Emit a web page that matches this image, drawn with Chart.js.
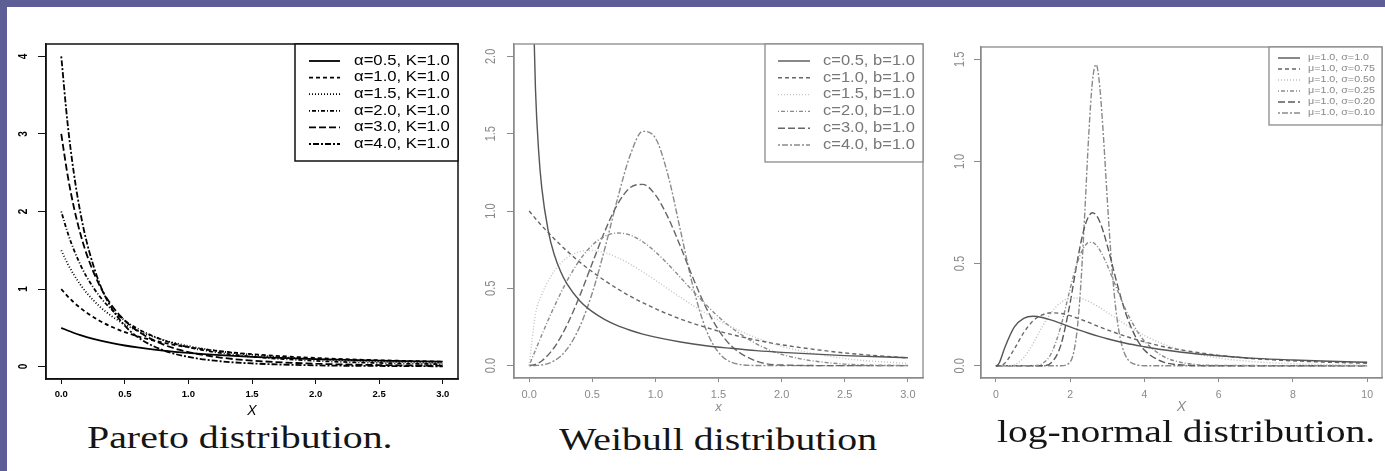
<!DOCTYPE html>
<html>
<head>
<meta charset="utf-8">
<script src="https://cdn.jsdelivr.net/npm/chart.js@4.4.1/dist/chart.umd.min.js"></script>
<style>
  html, body { margin: 0; padding: 0; }
  body { width: 1385px; height: 471px; background: #5e5e96; position: relative; overflow: hidden; }
  #panel { position: absolute; left: 7px; top: 7px; right: 0; bottom: 0; background: #fff; }
  canvas { position: absolute; }
  .cap { position: absolute; font-family: "Liberation Serif", serif; font-size: 31px; line-height: 1;
         color: #151515; white-space: nowrap; transform-origin: 0 0; }
</style>
</head>
<body>
<div id="panel"></div>
<canvas id="pareto" width="462" height="412" style="left:8px;top:8px"></canvas>
<canvas id="weibull" width="462" height="407" style="left:470px;top:8px"></canvas>
<canvas id="lognormal" width="451" height="408" style="left:934px;top:8px"></canvas>
<div class="cap" data-w="306" style="left:87px;top:422px">Pareto distribution.</div>
<div class="cap" data-w="318" style="left:559px;top:424px">Weibull distribution</div>
<div class="cap" data-w="378" style="left:997px;top:416px">log-normal distribution.</div>

<script>
// ---- Pareto (K = 1.0) ----
const paretoLabels = ['α=0.5, K=1.0', 'α=1.0, K=1.0', 'α=1.5, K=1.0', 'α=2.0, K=1.0', 'α=3.0, K=1.0', 'α=4.0, K=1.0'];
const paretoX   = [0, 0.05, 0.1, 0.15, 0.2, 0.3, 0.4, 0.5, 0.6, 0.8, 1.0, 1.25, 1.5, 2.0, 2.5, 3.0];
const paretoA05 = [0.5, 0.465, 0.433, 0.405, 0.38, 0.337, 0.302, 0.272, 0.247, 0.207, 0.177, 0.148, 0.126, 0.096, 0.076, 0.063];
const paretoA10 = [1, 0.907, 0.826, 0.756, 0.694, 0.592, 0.51, 0.444, 0.391, 0.309, 0.25, 0.198, 0.16, 0.111, 0.082, 0.063];
const paretoA15 = [1.5, 1.328, 1.182, 1.058, 0.951, 0.778, 0.647, 0.544, 0.463, 0.345, 0.265, 0.198, 0.152, 0.096, 0.065, 0.047];
const paretoA20 = [2, 1.728, 1.503, 1.315, 1.157, 0.91, 0.729, 0.593, 0.488, 0.343, 0.25, 0.176, 0.128, 0.074, 0.047, 0.031];
const paretoA30 = [3, 2.468, 2.049, 1.715, 1.447, 1.05, 0.781, 0.593, 0.458, 0.286, 0.188, 0.117, 0.077, 0.037, 0.02, 0.012];
const paretoA40 = [4, 3.134, 2.484, 1.989, 1.608, 1.077, 0.744, 0.527, 0.381, 0.212, 0.125, 0.069, 0.041, 0.016, 0.008, 0.004];
const paretoXTicks = [0, 0.5, 1.0, 1.5, 2.0, 2.5, 3.0];
const paretoYTicks = [0, 1, 2, 3, 4];

// ---- Weibull (b = 1.0) ----
const weibullLabels = ['c=0.5, b=1.0', 'c=1.0, b=1.0', 'c=1.5, b=1.0', 'c=2.0, b=1.0', 'c=3.0, b=1.0', 'c=4.0, b=1.0'];
const weibullX05 = [0.03, 0.05, 0.075, 0.1, 0.15, 0.2, 0.25, 0.3, 0.4, 0.5, 0.6, 0.7, 0.8, 0.9, 1.0, 1.2, 1.4, 1.6, 1.8, 2.0, 2.5, 3.0];
const weibullC05 = [2.43, 1.79, 1.39, 1.15, 0.877, 0.715, 0.607, 0.528, 0.42, 0.349, 0.298, 0.259, 0.229, 0.204, 0.184, 0.153, 0.129, 0.112, 0.097, 0.086, 0.065, 0.051];
const weibullX   = [0, 0.05, 0.1, 0.2, 0.3, 0.4, 0.5, 0.6, 0.7, 0.8, 0.9, 1.0, 1.1, 1.2, 1.3, 1.4, 1.5, 1.6, 1.8, 2.0, 2.5, 3.0];
const weibullC10 = [1, 0.951, 0.905, 0.819, 0.741, 0.67, 0.607, 0.549, 0.497, 0.449, 0.407, 0.368, 0.333, 0.301, 0.273, 0.247, 0.223, 0.202, 0.165, 0.135, 0.082, 0.05];
const weibullC15 = [0, 0.332, 0.46, 0.613, 0.697, 0.737, 0.745, 0.73, 0.699, 0.656, 0.606, 0.552, 0.496, 0.441, 0.388, 0.339, 0.293, 0.251, 0.18, 0.125, 0.046, 0.014];
const weibullC20 = [0, 0.1, 0.198, 0.384, 0.548, 0.682, 0.779, 0.837, 0.858, 0.844, 0.801, 0.736, 0.656, 0.569, 0.48, 0.395, 0.316, 0.247, 0.141, 0.073, 0.01, 0.001];
const weibullC30 = [0, 0.008, 0.03, 0.119, 0.263, 0.45, 0.662, 0.87, 1.043, 1.151, 1.172, 1.104, 0.959, 0.767, 0.563, 0.378, 0.231, 0.128, 0.029, 0.004, 0, 0];
const weibullC40 = [0, 0.001, 0.004, 0.032, 0.107, 0.25, 0.47, 0.759, 1.079, 1.36, 1.515, 1.472, 1.232, 0.869, 0.505, 0.236, 0.086, 0.023, 0.001, 0, 0, 0];
const weibullXTicks = [0, 0.5, 1.0, 1.5, 2.0, 2.5, 3.0];
const weibullYTicks = [0, 0.5, 1.0, 1.5, 2.0];

// ---- log-normal (mu = 1.0) ----
const lognormLabels = ['μ=1.0, σ=1.0', 'μ=1.0, σ=0.75', 'μ=1.0, σ=0.50', 'μ=1.0, σ=0.25', 'μ=1.0, σ=0.20', 'μ=1.0, σ=0.10'];
const lognormXWide = [0, 0.05, 0.1, 0.25, 0.5, 0.75, 1, 1.25, 1.5, 1.75, 2, 2.25, 2.5, 2.75, 3, 3.5, 4, 4.5, 5, 6, 7, 8, 9, 10];
const lognormS100 = [0, 0.003, 0.017, 0.093, 0.19, 0.232, 0.242, 0.236, 0.223, 0.207, 0.19, 0.174, 0.159, 0.145, 0.132, 0.11, 0.093, 0.078, 0.066, 0.049, 0.036, 0.028, 0.022, 0.017];
const lognormS075 = [0, 0, 0, 0.014, 0.083, 0.162, 0.219, 0.249, 0.259, 0.256, 0.245, 0.229, 0.212, 0.193, 0.176, 0.144, 0.117, 0.094, 0.077, 0.051, 0.034, 0.024, 0.017, 0.012];
const lognormS050 = [0, 0, 0, 0, 0.005, 0.039, 0.108, 0.191, 0.262, 0.309, 0.33, 0.33, 0.315, 0.29, 0.261, 0.201, 0.148, 0.107, 0.076, 0.038, 0.019, 0.01, 0.005, 0.003];
const lognormXNarrow = [0, 1, 1.25, 1.5, 1.75, 2, 2.1, 2.2, 2.3, 2.4, 2.5, 2.6, 2.7, 2.8, 2.9, 3.0, 3.1, 3.2, 3.3, 3.4, 3.5, 3.6, 3.8, 4, 4.5, 5, 6, 10];
const lognormS025 = [0, 0, 0.01, 0.063, 0.193, 0.376, 0.446, 0.507, 0.555, 0.587, 0.604, 0.604, 0.591, 0.566, 0.532, 0.492, 0.448, 0.403, 0.358, 0.314, 0.273, 0.236, 0.171, 0.121, 0.047, 0.016, 0.002, 0];
const lognormS020 = [0, 0, 0, 0.016, 0.101, 0.307, 0.413, 0.518, 0.612, 0.685, 0.731, 0.749, 0.738, 0.705, 0.653, 0.589, 0.519, 0.447, 0.378, 0.314, 0.256, 0.207, 0.129, 0.077, 0.019, 0.004, 0, 0];
const lognormS010 = [0, 0, 0, 0, 0, 0.018, 0.068, 0.194, 0.43, 0.766, 1.124, 1.39, 1.474, 1.364, 1.116, 0.818, 0.543, 0.329, 0.185, 0.096, 0.047, 0.021, 0.004, 0, 0, 0, 0, 0];
const lognormXTicks = [0, 2, 4, 6, 8, 10];
const lognormYTicks = [0, 0.5, 1.0, 1.5];

// R lty 1..6
const ltyDash = [[], [4, 3], [1, 2], [1, 2, 4, 2], [7, 3], [2, 2, 6, 2]];
const SANS = '"Liberation Sans", Arial, sans-serif';

function pts(xs, ys) { return xs.map((x, i) => ({ x: x, y: ys[i] })); }

// box round the plot region, rotated y labels and the legend, R style
const rFrame = {
  id: 'rFrame',
  afterDatasetsDraw(chart, args, o) {
    const ctx = chart.ctx, a = chart.chartArea;
    ctx.save();
    ctx.strokeStyle = o.color;
    ctx.lineWidth = o.width;
    ctx.strokeRect(a.left, a.top, a.right - a.left, a.bottom - a.top);

    const ys = chart.scales.y;
    ctx.fillStyle = o.labelColor;
    ctx.font = o.labelFont;
    ctx.textAlign = 'center';
    ctx.textBaseline = 'middle';
    ys.ticks.forEach(t => {
      ctx.save();
      ctx.translate(a.left - o.labelGap, ys.getPixelForValue(t.value));
      ctx.rotate(-Math.PI / 2);
      ctx.scale(1, o.labelStretch);
      ctx.fillText(t.value.toFixed(o.decimals), 0, 0);
      ctx.restore();
    });

    const L = o.legend;
    const bx = a.right - L.w, by = a.top;
    ctx.fillStyle = '#fff';
    ctx.fillRect(bx, by, L.w, L.h);
    ctx.strokeRect(bx, by, L.w, L.h);
    chart.data.datasets.forEach((ds, i) => {
      const y = by + L.first + i * L.step;
      ctx.save();
      ctx.strokeStyle = ds.borderColor;
      ctx.lineWidth = ds.borderWidth;
      ctx.setLineDash(ds.borderDash);
      ctx.beginPath();
      ctx.moveTo(bx + L.sx, y);
      ctx.lineTo(bx + L.sx + L.sl, y);
      ctx.stroke();
      ctx.restore();
      ctx.save();
      ctx.translate(bx + L.tx, y);
      ctx.scale(L.hs, 1);
      ctx.fillStyle = L.color;
      ctx.font = L.font;
      ctx.textAlign = 'left';
      ctx.textBaseline = 'middle';
      ctx.fillText(ds.label, 0, 0);
      ctx.restore();
    });
    ctx.restore();
  }
};

function makeChart(id, p) {
  const datasets = p.series.map((s, i) => ({
    label: p.labels[i],
    data: pts(s[0], s[1]),
    borderColor: p.colors[i],
    borderWidth: p.lw,
    borderDash: ltyDash[i],
    pointRadius: 0,
    cubicInterpolationMode: 'monotone',
    fill: false
  }));
  return new Chart(document.getElementById(id), {
    type: 'line',
    data: { datasets: datasets },
    plugins: [rFrame],
    options: {
      responsive: false,
      animation: false,
      devicePixelRatio: 1,
      layout: { padding: { left: 0, top: p.top, right: p.right, bottom: 0 } },
      scales: {
        x: {
          type: 'linear', min: p.xmin, max: p.xmax,
          afterBuildTicks: s => { s.ticks = p.xticks.map(v => ({ value: v })); },
          afterFit: s => { s.height = p.xh; },
          ticks: {
            color: p.tickColor, padding: p.xpad, maxRotation: 0,
            font: { family: SANS, size: p.tickSize, weight: p.tickWeight },
            callback: v => v.toFixed(p.xdec)
          },
          grid: { drawOnChartArea: false, drawTicks: true, tickLength: p.xtl, color: p.axisColor, lineWidth: 1 },
          border: { color: p.axisColor, width: p.boxWidth },
          title: {
            display: true, text: p.xtitle, color: p.tickColor, padding: 0,
            font: { family: SANS, size: p.xtitleSize, style: 'italic', lineHeight: 1.2 }
          }
        },
        y: {
          type: 'linear', min: p.ymin, max: p.ymax,
          afterBuildTicks: s => { s.ticks = p.yticks.map(v => ({ value: v })); },
          afterFit: s => { s.width = p.left; },
          ticks: { display: false },
          grid: { drawOnChartArea: false, drawTicks: true, tickLength: p.ytl, color: p.axisColor, lineWidth: 1 },
          border: { color: p.axisColor, width: p.boxWidth }
        }
      },
      plugins: {
        legend: { display: false },
        tooltip: { enabled: false },
        rFrame: {
          color: p.axisColor, width: p.boxWidth,
          labelColor: p.tickColor, labelFont: p.tickWeight + ' ' + p.ylabSize + 'px ' + SANS,
          labelGap: p.ylabGap, labelStretch: 1.25, decimals: p.ydec,
          legend: p.legend
        }
      }
    }
  });
}

makeChart('pareto', {
  labels: paretoLabels,
  series: [[paretoX, paretoA05], [paretoX, paretoA10], [paretoX, paretoA15], [paretoX, paretoA20], [paretoX, paretoA30], [paretoX, paretoA40]],
  colors: ['#000', '#000', '#000', '#000', '#000', '#000'], lw: 1.8,
  top: 36, right: 12, left: 38, xh: 41,
  xmin: -0.12, xmax: 3.12, ymin: -0.16, ymax: 4.16,
  xticks: paretoXTicks, yticks: paretoYTicks, xdec: 1, ydec: 0,
  tickColor: '#000', axisColor: '#111', boxWidth: 1.5, tickSize: 9.5, ylabSize: 10, tickWeight: 'bold',
  xpad: 5, xtl: 5, ytl: 8, ylabGap: 22,
  xtitle: 'X', xtitleSize: 14,
  legend: { w: 163, h: 117, first: 17, step: 16.6, sx: 14, sl: 31, tx: 59, hs: 1.19,
            color: '#000', font: '14px ' + SANS }
});

makeChart('weibull', {
  labels: weibullLabels,
  series: [[weibullX05, weibullC05], [weibullX, weibullC10], [weibullX, weibullC15], [weibullX, weibullC20], [weibullX, weibullC30], [weibullX, weibullC40]],
  colors: ['#555', '#666', '#c4c4c4', '#8a8a8a', '#666', '#8a8a8a'], lw: 1.4,
  top: 36, right: 9, left: 44, xh: 37,
  xmin: -0.12, xmax: 3.12, ymin: -0.08, ymax: 2.08,
  xticks: weibullXTicks, yticks: weibullYTicks, xdec: 1, ydec: 1,
  tickColor: '#8a8a8a', axisColor: '#8a8a8a', boxWidth: 1.3, tickSize: 11, ylabSize: 11, tickWeight: 'normal',
  xpad: 6, xtl: 4, ytl: 7, ylabGap: 23,
  xtitle: 'x', xtitleSize: 13,
  legend: { w: 158, h: 118, first: 17, step: 16.8, sx: 13, sl: 32, tx: 58, hs: 1.18,
            color: '#777', font: '14px ' + SANS }
});

makeChart('lognormal', {
  labels: lognormLabels,
  series: [[lognormXWide, lognormS100], [lognormXWide, lognormS075], [lognormXWide, lognormS050], [lognormXNarrow, lognormS025], [lognormXNarrow, lognormS020], [lognormXNarrow, lognormS010]],
  colors: ['#555', '#666', '#bdbdbd', '#8a8a8a', '#5a5a5a', '#8a8a8a'], lw: 1.4,
  top: 39, right: 3, left: 47, xh: 38,
  xmin: -0.4, xmax: 10.4, ymin: -0.06, ymax: 1.56,
  xticks: lognormXTicks, yticks: lognormYTicks, xdec: 0, ydec: 1,
  tickColor: '#8a8a8a', axisColor: '#8a8a8a', boxWidth: 1.3, tickSize: 10.5, ylabSize: 11, tickWeight: 'normal',
  xpad: 6.5, xtl: 4, ytl: 7, ylabGap: 21,
  xtitle: 'X', xtitleSize: 14,
  legend: { w: 113, h: 78, first: 11, step: 11, sx: 9, sl: 22, tx: 39, hs: 1.26,
            color: '#888', font: '8.5px ' + SANS }
});

document.querySelectorAll('.cap').forEach(el => {
  el.style.transform = 'scaleX(' + (+el.dataset.w / el.offsetWidth) + ')';
});
</script>
</body>
</html>
